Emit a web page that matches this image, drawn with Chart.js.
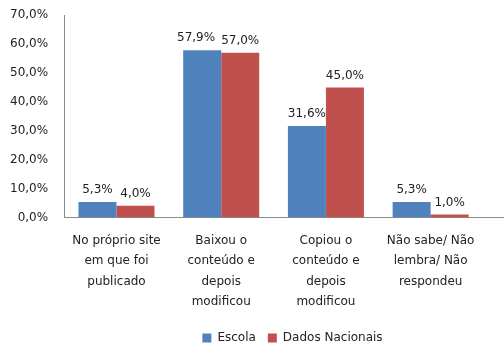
<!DOCTYPE html>
<html>
<head>
<meta charset="utf-8">
<script src="https://cdn.jsdelivr.net/npm/chart.js@4.4.0/dist/chart.umd.min.js"></script>
<style>
  html, body { margin: 0; padding: 0; background: #fff; }
  #wrap { width: 504px; height: 355px; }
</style>
</head>
<body>
<div id="wrap"><canvas id="chart"></canvas></div>
<script>
// Categories (multi-line labels) and values
const categories = [
    ['No próprio site', 'em que foi', 'publicado'],
    ['Baixou o', 'conteúdo e', 'depois', 'modificou'],
    ['Copiou o', 'conteúdo e', 'depois', 'modificou'],
    ['Não sabe/ Não', 'lembra/ Não', 'respondeu']
];
const escola = [5.3, 57.9, 31.6, 5.3];
const dadosNacionais = [4.0, 57.0, 45.0, 1.0];
const seriesNames = ['Escola', 'Dados Nacionais'];

const fontFamily = '"DejaVu Sans", sans-serif';
const fontSize = 12;
const axisColor = '#8c8c8c';

// Format a number as "57,9%"
function pct(v) {
    return v.toFixed(1).replace('.', ',') + '%';
}

// Small plugin that writes the value above each bar
// (the left label is pushed aside when two labels would touch)
const barLabels = {
    id: 'barLabels',
    afterDatasetsDraw(chart) {
        const ctx = chart.ctx;
        ctx.save();
        ctx.font = fontSize + 'px ' + fontFamily;
        ctx.fillStyle = '#222';
        ctx.textAlign = 'center';
        ctx.textBaseline = 'bottom';
        const left = chart.getDatasetMeta(0).data;
        const right = chart.getDatasetMeta(1).data;
        left.forEach((barA, j) => {
            const barB = right[j];
            const textA = pct(escola[j]);
            const textB = pct(dadosNacionais[j]);
            const wA = ctx.measureText(textA).width;
            const wB = ctx.measureText(textB).width;
            let xA = barA.x;
            const gap = (barB.x - wB / 2) - (xA + wA / 2);
            if (Math.abs(barA.y - barB.y) < fontSize + 2 && gap < 6) {
                xA -= 6 - gap;
            }
            ctx.fillText(textA, xA, barA.y - 6);
            ctx.fillText(textB, barB.x, barB.y - 6);
        });
        ctx.restore();
    }
};

// Move the legend a bit, and let the x axis line run to the right edge
const layoutTweaks = {
    id: 'layoutTweaks',
    afterLayout(chart) {
        chart.legend.left += 50;
        chart.legend.right += 50;
        chart.legend.top += 3;
        chart.legend.bottom += 3;
    },
    afterDraw(chart) {
        const ctx = chart.ctx;
        const y = Math.round(chart.scales.y.getPixelForValue(0)) + 0.5;
        ctx.save();
        ctx.strokeStyle = axisColor;
        ctx.lineWidth = 1;
        ctx.beginPath();
        ctx.moveTo(chart.chartArea.right, y);
        ctx.lineTo(chart.width, y);
        ctx.stroke();
        ctx.restore();
    }
};

const ctx = document.getElementById('chart').getContext('2d');
new Chart(ctx, {
    type: 'bar',
    data: {
        labels: categories,
        datasets: [{
            label: seriesNames[0],
            data: escola,
            backgroundColor: '#4F81BD',
            categoryPercentage: 0.726,
            barPercentage: 1.0
        }, {
            label: seriesNames[1],
            data: dadosNacionais,
            backgroundColor: '#C0504D',
            categoryPercentage: 0.726,
            barPercentage: 1.0
        }]
    },
    options: {
        responsive: true,
        maintainAspectRatio: false,
        animation: false,
        layout: { padding: { left: 2, right: 21, top: 7, bottom: 4 } },
        plugins: {
            legend: {
                position: 'bottom',
                labels: {
                    font: { family: fontFamily, size: fontSize },
                    color: '#222',
                    boxWidth: 9,
                    boxHeight: 9,
                    padding: 12
                }
            },
            tooltip: { enabled: false }
        },
        scales: {
            x: {
                grid: { display: false },
                border: { display: true, color: axisColor },
                ticks: {
                    font: { family: fontFamily, size: fontSize, lineHeight: 1.7 },
                    color: '#222',
                    maxRotation: 0,
                    autoSkip: false,
                    padding: 5
                }
            },
            y: {
                min: 0,
                max: 70,
                grid: { display: false },
                border: { display: true, color: axisColor },
                ticks: {
                    stepSize: 10,
                    font: { family: fontFamily, size: fontSize },
                    color: '#222',
                    padding: 8,
                    callback: v => pct(v)
                }
            }
        }
    },
    plugins: [barLabels, layoutTweaks]
});
</script>
</body>
</html>
